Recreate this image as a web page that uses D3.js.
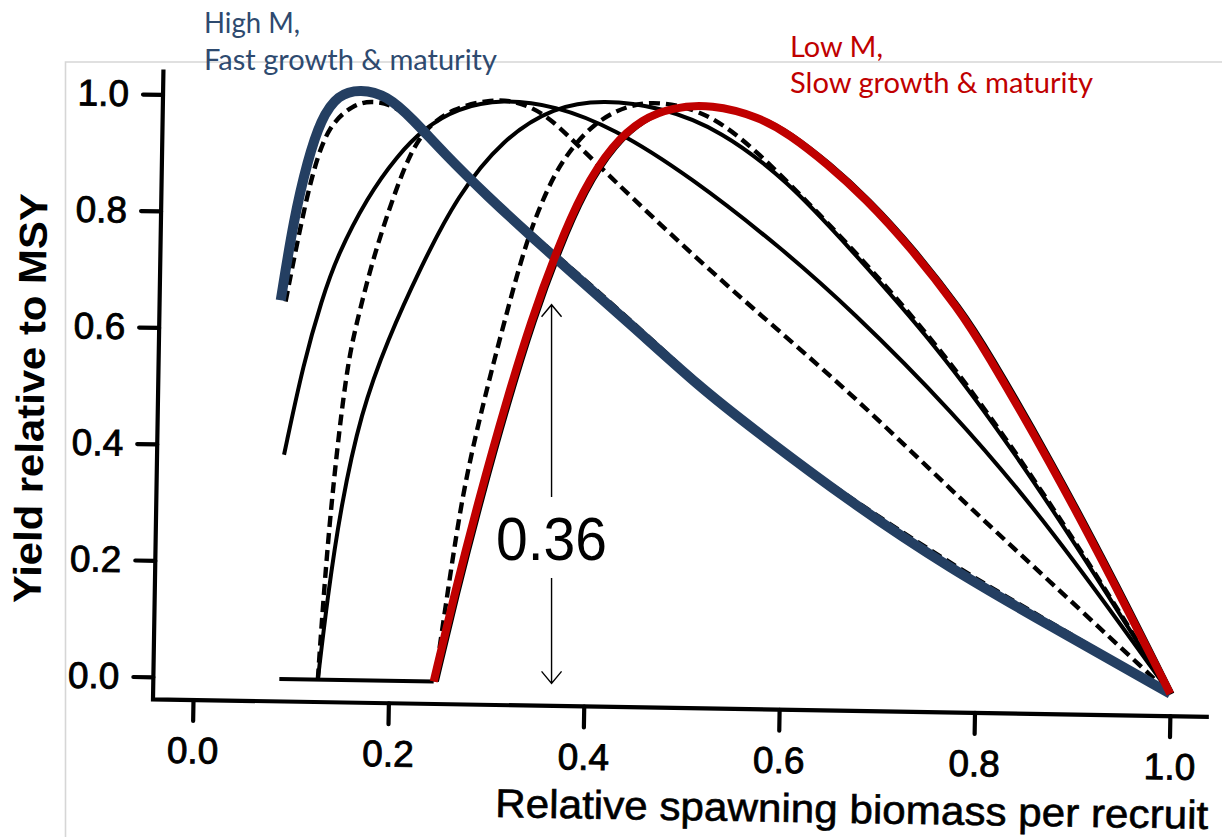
<!DOCTYPE html>
<html>
<head>
<meta charset="utf-8">
<script src="https://cdn.jsdelivr.net/npm/d3@7"></script>
<style>
html,body{margin:0;padding:0;background:#fff;}
svg{display:block;}
</style>
</head>
<body>
<svg id="chart" width="1222" height="837"></svg>
<script>
// ---------- data ----------
const xTicks = [0, 0.2, 0.4, 0.6, 0.8, 1.0];
const xTickLabels = ["0.0", "0.2", "0.4", "0.6", "0.8", "1.0"];
const yTicks = [0, 0.2, 0.4, 0.6, 0.8, 1.0];
const yTickLabels = ["0.0", "0.2", "0.4", "0.6", "0.8", "1.0"];
const xTitle = "Relative spawning biomass per recruit";
const yTitle = "Yield relative to MSY";

// High M (blue, thick)
const blueX = [0.083, 0.095, 0.108, 0.121, 0.138, 0.161, 0.188, 0.215, 0.247, 0.293, 0.345, 0.379, 0.444, 0.514, 0.565, 0.669, 0.773, 0.876, 1.0];
const blueY = [0.65, 0.79, 0.89, 0.962, 1.005, 1.015, 1.005, 0.965, 0.908, 0.834, 0.757, 0.708, 0.615, 0.512, 0.447, 0.32, 0.208, 0.113, 0.0];

// dashed curve under the blue one
const d1X = [0.088, 0.101, 0.114, 0.129, 0.154, 0.172, 0.192, 0.215, 0.247, 0.293, 0.345, 0.4, 0.46, 0.52, 0.6, 0.7, 0.8, 0.9, 1.0];
const d1Y = [0.648, 0.77, 0.875, 0.952, 0.988, 0.995, 0.99, 0.965, 0.91, 0.838, 0.762, 0.685, 0.598, 0.508, 0.404, 0.293, 0.19, 0.097, 0.0];

// solid curve starting at 0.38
const s1X = [0.089, 0.1075, 0.125, 0.14, 0.17, 0.2, 0.226, 0.26, 0.307, 0.36, 0.42, 0.5, 0.596, 0.666, 0.77, 0.874, 1.0];
const s1Y = [0.385, 0.544, 0.652, 0.728, 0.83, 0.902, 0.948, 0.985, 1.002, 0.992, 0.956, 0.874, 0.752, 0.651, 0.483, 0.285, 0.0];

// dashed curve starting at 0.127
const d2X = [0.1274, 0.130, 0.136, 0.145, 0.153, 0.16, 0.177, 0.1965, 0.213, 0.23, 0.256, 0.291, 0.32, 0.35, 0.376, 0.4, 0.48, 0.5635, 0.667, 0.771, 0.875, 1.0];
const d2Y = [0.0, 0.085, 0.257, 0.429, 0.545, 0.606, 0.727, 0.831, 0.907, 0.952, 0.984, 1.0, 1.0, 0.978, 0.938, 0.9, 0.775, 0.653, 0.509, 0.345, 0.189, 0.0];

// solid curve starting at 0.127
const s2X = [0.1274, 0.136, 0.148, 0.167, 0.193, 0.2255, 0.262, 0.308, 0.359, 0.41, 0.47, 0.53, 0.6, 0.662, 0.7555, 0.839, 0.9085, 1.0];
const s2Y = [0.0, 0.143, 0.298, 0.46, 0.585, 0.71, 0.835, 0.934, 0.99, 1.004, 0.992, 0.955, 0.869, 0.76, 0.59, 0.404, 0.234, 0.0];

// dashed curve starting at 0.247
const d3X = [0.247, 0.26, 0.273, 0.289, 0.302, 0.318, 0.334, 0.354, 0.372, 0.4, 0.434, 0.468, 0.519, 0.571, 0.623, 0.662, 0.756, 0.839, 0.9085, 1.0];
const d3Y = [0.0, 0.17, 0.33, 0.456, 0.55, 0.658, 0.762, 0.85, 0.907, 0.963, 0.995, 1.003, 0.984, 0.915, 0.829, 0.764, 0.594, 0.408, 0.238, 0.0];

// Low M (red, thick)
const redX = [0.246, 0.265, 0.29, 0.315, 0.34, 0.365, 0.39, 0.42, 0.45, 0.48, 0.52, 0.57, 0.6, 0.64, 0.68, 0.726, 0.778, 0.8026, 0.873, 0.944, 1.0];
const redY = [0.0, 0.145, 0.32, 0.48, 0.625, 0.745, 0.847, 0.927, 0.972, 0.992, 0.999, 0.978, 0.95, 0.9, 0.841, 0.76, 0.652, 0.59, 0.395, 0.178, 0.0];

// solid curve lying under the red one
const s4X = [0.249, 0.268, 0.293, 0.318, 0.343, 0.368, 0.393, 0.423, 0.453, 0.483, 0.523, 0.573, 0.603, 0.643, 0.683, 0.729, 0.781, 0.806, 0.876, 0.947, 1.002];
const s4Y = [0.0, 0.145, 0.32, 0.48, 0.625, 0.745, 0.847, 0.927, 0.972, 0.992, 0.999, 0.978, 0.95, 0.9, 0.841, 0.76, 0.652, 0.59, 0.395, 0.178, 0.0];

// flat zero-yield segment
const zeroX = [0.088, 0.246];
const zeroY = [0.0, 0.0];

// annotation
const annoValue = "0.36";
const annoX = 0.367;
const annoArrowTop = 0.64;
const annoArrowBottom = -0.01;
const highLabels = ["High M,", "Fast growth & maturity"];
const lowLabels = ["Low M,", "Slow growth & maturity"];

// ---------- drawing ----------
const svg = d3.select("#chart");
svg.append("rect").attr("width", 1222).attr("height", 837).attr("fill", "#fff");

// light frame of the pasted figure
svg.append("path").attr("d", "M65.5,837 V62 H1222")
  .attr("fill", "none").attr("stroke", "#d6d6d6").attr("stroke-width", 1.6);

const x = d3.scaleLinear().domain([0, 1]).range([193, 1170]);
const y = d3.scaleLinear().domain([0, 1]).range([677.5, 95]);

const FONT = "'Liberation Sans', Arial, Helvetica, sans-serif";

// the scanned figure is rotated by about one degree
const fig = svg.append("g").attr("transform", "rotate(0.95,193,700)");

// axis lines
fig.append("path").attr("d", "M153,70 V700 H1209")
  .attr("fill", "none").attr("stroke", "#000").attr("stroke-width", 4.2)
  .attr("stroke-linejoin", "miter");

const yAxis = fig.append("g").attr("transform", "translate(153,0)")
  .call(d3.axisLeft(y).tickValues(yTicks).tickFormat((d, i) => yTickLabels[i])
    .tickSize(20).tickPadding(14));
yAxis.select(".domain").remove();

const xAxis = fig.append("g").attr("transform", "translate(0,700)")
  .call(d3.axisBottom(x).tickValues(xTicks).tickFormat((d, i) => xTickLabels[i])
    .tickSize(21).tickPadding(16));
xAxis.select(".domain").remove();

[yAxis, xAxis].forEach(g => {
  g.selectAll(".tick line").attr("stroke", "#000").attr("stroke-width", 4.2)
    .attr("stroke-linecap", "round");
  g.selectAll(".tick text").attr("fill", "#000").attr("stroke", "#000")
    .attr("stroke-width", 0.9).style("font-family", FONT).style("font-size", "37px");
});

// axis titles
fig.append("text")
  .attr("x", 497).attr("y", 812)
  .attr("textLength", 713).attr("lengthAdjust", "spacingAndGlyphs")
  .style("font-family", FONT).style("font-size", "40px")
  .attr("fill", "#000").attr("stroke", "#000").attr("stroke-width", 0.6)
  .text(xTitle);

fig.append("text")
  .attr("transform", "translate(39,401) rotate(-90)")
  .attr("text-anchor", "middle")
  .attr("textLength", 410).attr("lengthAdjust", "spacingAndGlyphs")
  .style("font-family", FONT).style("font-size", "39px").style("font-weight", "bold")
  .attr("fill", "#000")
  .text(yTitle);

// curves
const line = d3.line()
  .x(d => x(d[0])).y(d => y(d[1]))
  .curve(d3.curveBasis);

const zip = (xs, ys) => xs.map((v, i) => [v, ys[i]]);

const series = [
  { xs: zeroX, ys: zeroY, color: "#000", width: 4, dash: null },
  { xs: s1X, ys: s1Y, color: "#000", width: 4, dash: null },
  { xs: s2X, ys: s2Y, color: "#000", width: 4, dash: null },
  { xs: d2X, ys: d2Y, color: "#000", width: 4.4, dash: "11,6" },
  { xs: d3X, ys: d3Y, color: "#000", width: 4.4, dash: "11,6" },
  { xs: s4X, ys: s4Y, color: "#000", width: 4.6, dash: null },
  { xs: d1X, ys: d1Y, color: "#000", width: 4.4, dash: "11,6" },
  { xs: blueX, ys: blueY, color: "#243F62", width: 10, dash: null },
  { xs: redX, ys: redY, color: "#C00000", width: 8, dash: null }
];

fig.append("g").selectAll("path").data(series).join("path")
  .attr("d", s => line(zip(s.xs, s.ys)))
  .attr("fill", "none")
  .attr("stroke", s => s.color)
  .attr("stroke-width", s => s.width)
  .attr("stroke-dasharray", s => s.dash)
  .attr("stroke-linejoin", "round");

// ---------- overlay annotations (not rotated) ----------
const ann = svg.append("g");
const ax = x(annoX);
const yTop = y(annoArrowTop), yBot = y(annoArrowBottom);
const mid = 537;
ann.append("path")
  .attr("d", `M${ax},${yTop} V${mid - 40} M${ax},${mid + 41} V${yBot}` +
    ` M${ax - 10},${yTop + 12} L${ax},${yTop} L${ax + 10},${yTop + 12}` +
    ` M${ax - 10},${yBot - 12} L${ax},${yBot} L${ax + 10},${yBot - 12}`)
  .attr("fill", "none").attr("stroke", "#000").attr("stroke-width", 1.4);

ann.append("text")
  .attr("x", ax).attr("y", 560).attr("text-anchor", "middle")
  .attr("textLength", 111).attr("lengthAdjust", "spacingAndGlyphs")
  .style("font-family", FONT).style("font-size", "61px")
  .attr("fill", "#000")
  .text(annoValue);

const LABEL_FONT = "Lato, 'Open Sans', 'Noto Sans', sans-serif";
const hi = ann.append("g").attr("fill", "#2E4A6F")
  .style("font-family", LABEL_FONT).style("font-size", "29px");
hi.append("text").attr("x", 204).attr("y", 33)
  .attr("textLength", 96).attr("lengthAdjust", "spacingAndGlyphs").text(highLabels[0]);
hi.append("text").attr("x", 204).attr("y", 70)
  .attr("textLength", 293).attr("lengthAdjust", "spacingAndGlyphs").text(highLabels[1]);

const lo = ann.append("g").attr("fill", "#C00000")
  .style("font-family", LABEL_FONT).style("font-size", "29px");
lo.append("text").attr("x", 790).attr("y", 57)
  .attr("textLength", 93).attr("lengthAdjust", "spacingAndGlyphs").text(lowLabels[0]);
lo.append("text").attr("x", 790).attr("y", 93)
  .attr("textLength", 303).attr("lengthAdjust", "spacingAndGlyphs").text(lowLabels[1]);
</script>
</body>
</html>
